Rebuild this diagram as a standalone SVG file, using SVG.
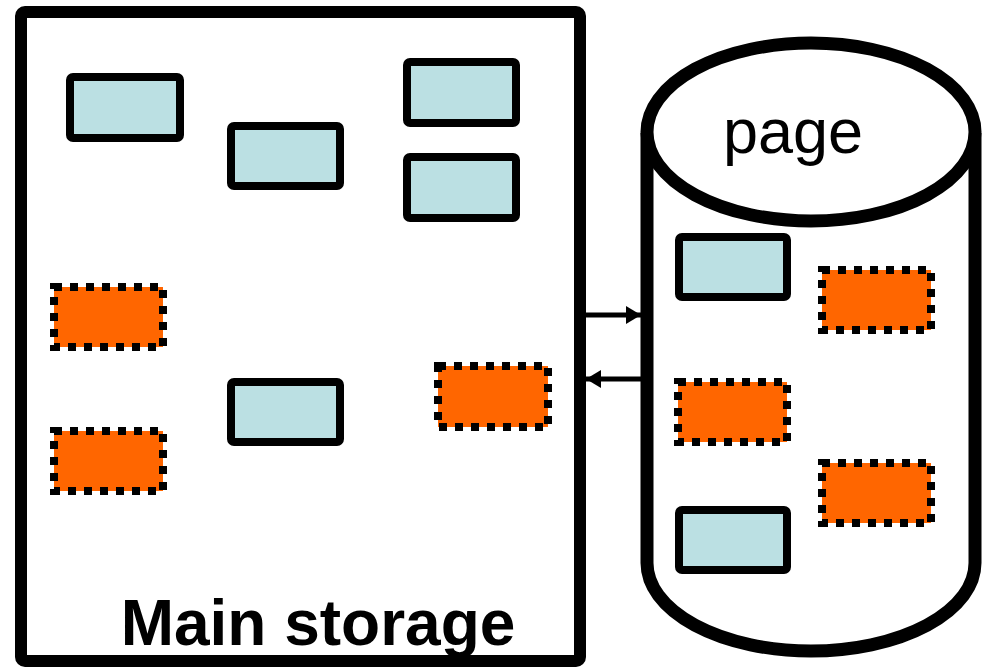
<svg xmlns="http://www.w3.org/2000/svg" width="982" height="669" viewBox="0 0 982 669">
<style>
.blue{fill:#BBE0E3;stroke:#000;stroke-width:8}
.orange{fill:#FF6600;stroke:#000;stroke-width:8;stroke-dasharray:8 8}
.line{stroke:#000;stroke-width:5;fill:none}
</style>
<defs>
<marker id="ah" viewBox="0 0 15 18" refX="15" refY="9" markerWidth="15" markerHeight="18" markerUnits="userSpaceOnUse" orient="auto">
<path d="M0,0 L15,9 L0,18 z" fill="#000"/>
</marker>
</defs>
<g id="main-storage">
<rect x="21" y="12" width="559" height="649" rx="4" fill="#fff" stroke="#000" stroke-width="12"/>
<text x="318" y="645" text-anchor="middle" font-family="Liberation Sans, Arial, sans-serif" font-weight="bold" font-size="64">Main storage</text>
</g>
<g id="page">
<path d="M647,133 L647,563 A164,88 0 0 0 975,563 L975,133" fill="#fff" stroke="#000" stroke-width="13"/>
<ellipse cx="811" cy="132" rx="164" ry="89" fill="#fff" stroke="#000" stroke-width="13"/>
<text x="793" y="153" text-anchor="middle" font-family="Liberation Sans, Arial, sans-serif" font-size="63">page</text>
</g>
<g id="m-blue1"><rect class="blue" x="70" y="77" width="110" height="61" rx="3"/></g>
<g id="m-blue2"><rect class="blue" x="231" y="126" width="109" height="60" rx="3"/></g>
<g id="m-blue3"><rect class="blue" x="407" y="62" width="109" height="61" rx="3"/></g>
<g id="m-blue4"><rect class="blue" x="407" y="157" width="109" height="61" rx="3"/></g>
<g id="m-blue5"><rect class="blue" x="231" y="382" width="109" height="60" rx="3"/></g>
<g id="m-orange1"><rect class="orange" x="54" y="287" width="109" height="60"/></g>
<g id="m-orange2"><rect class="orange" x="54" y="431" width="109" height="60"/></g>
<g id="m-orange3"><rect class="orange" x="438" y="366" width="110" height="61"/></g>
<g id="p-blue1"><rect class="blue" x="679" y="237" width="108" height="60" rx="3"/></g>
<g id="p-orange1"><rect class="orange" x="822" y="270" width="109" height="60"/></g>
<g id="p-orange2"><rect class="orange" x="678" y="382" width="109" height="60"/></g>
<g id="p-orange3"><rect class="orange" x="822" y="463" width="109" height="60"/></g>
<g id="p-blue2"><rect class="blue" x="679" y="510" width="108" height="60" rx="3"/></g>
<g id="connectors">
<line class="line" x1="586" y1="315" x2="641" y2="315" marker-end="url(#ah)"/>
<line class="line" x1="641" y1="379" x2="586" y2="379" marker-end="url(#ah)"/>
</g>
</svg>
